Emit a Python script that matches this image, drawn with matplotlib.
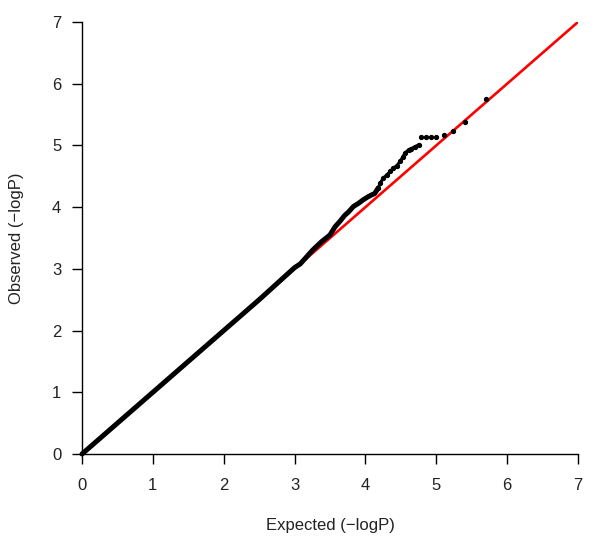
import matplotlib
matplotlib.use("Agg")
import matplotlib.pyplot as plt

plt.rcParams['font.family'] = ['Liberation Sans', 'DejaVu Sans']

# bulk of the QQ points (dense part, reads as a thick line)
bulk_exp = [0.0, 0.25, 0.5, 0.75, 1.0, 1.25, 1.5, 1.75, 2.0, 2.25, 2.5, 2.75, 3.0,
            3.08, 3.26, 3.38, 3.50, 3.57, 3.64, 3.71, 3.76, 3.83, 3.90, 3.97,
            4.04, 4.09, 4.13, 4.18]
bulk_obs = [0.0, 0.25, 0.5, 0.75, 1.0, 1.25, 1.5, 1.75, 2.0, 2.25, 2.5, 2.76, 3.02,
            3.08, 3.31, 3.44, 3.55, 3.68, 3.77, 3.87, 3.92, 4.01, 4.06, 4.12,
            4.17, 4.20, 4.22, 4.31]

# sparser upper part, points still touching
upper_exp = [4.18, 4.21, 4.25, 4.30, 4.35, 4.39, 4.44, 4.49,
             4.53, 4.56, 4.61, 4.65, 4.70, 4.75]
upper_obs = [4.31, 4.39, 4.47, 4.52, 4.58, 4.63, 4.67, 4.74,
             4.82, 4.88, 4.93, 4.95, 4.98, 5.01]

# isolated top hits
tail_exp = [4.79, 4.86, 4.93, 5.00, 5.11, 5.23, 5.40, 5.70]
tail_obs = [5.14, 5.14, 5.14, 5.14, 5.17, 5.23, 5.38, 5.76]

ticks = [0, 1, 2, 3, 4, 5, 6, 7]

fig = plt.figure(figsize=(6.01, 5.49), dpi=100)
ax = fig.add_axes([82 / 601, 1 - 454 / 549, 496 / 601, 432 / 549])

ax.plot([0, 7], [0, 7], color='red', lw=1.9, solid_capstyle='butt', zorder=2)
ax.plot(bulk_exp, bulk_obs, color='black', lw=3.6, solid_capstyle='round',
        solid_joinstyle='round', zorder=3, clip_on=False)
ax.plot(upper_exp, upper_obs, color='black', lw=2.2, marker='o',
        markersize=2.8, zorder=3, clip_on=False)
ax.plot(tail_exp, tail_obs, 'o', color='black', markersize=2.8, zorder=3,
        clip_on=False)

ax.set_xlim(0, 7)
ax.set_ylim(0, 7)
ax.set_xticks(ticks)
ax.set_yticks(ticks)
for s in ['top', 'right']:
    ax.spines[s].set_visible(False)
for s in ['left', 'bottom']:
    ax.spines[s].set_linewidth(1.0)
ax.tick_params(direction='out', length=7, width=1.0, labelsize=12,
               colors='black', labelcolor='#222222')
ax.tick_params(axis='x', pad=10)
ax.tick_params(axis='y', pad=8)
ax.set_xlabel('Expected (\u2212logP)', fontsize=12, labelpad=18, color='#222222')
ax.set_ylabel('Observed (\u2212logP)', fontsize=12, labelpad=20, color='#222222')

fig.savefig('out.png', dpi=100)
